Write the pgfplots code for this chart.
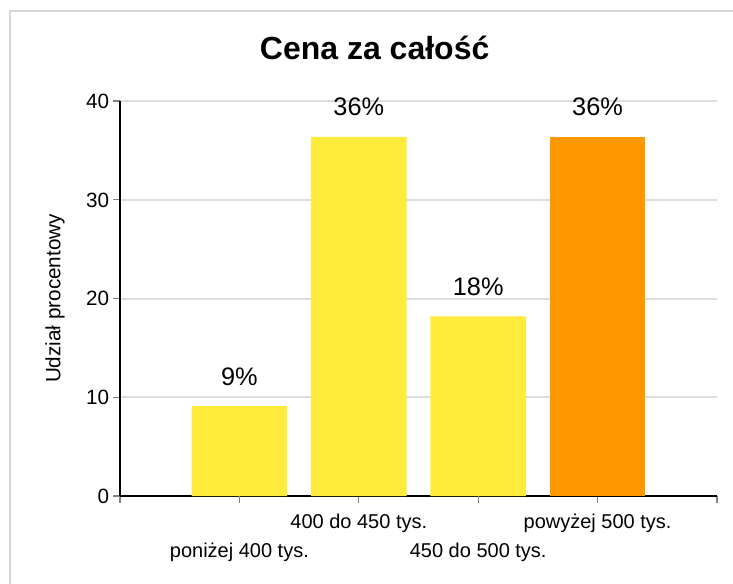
\documentclass[border=0pt]{standalone}
\usepackage{fontspec}
\setmainfont{Liberation Sans}
\usepackage{pgfplots}
\pgfplotsset{compat=1.18}
\definecolor{baryellow}{RGB}{255,235,59}
\definecolor{barorange}{RGB}{255,152,0}
\definecolor{gridgray}{RGB}{220,220,220}
\definecolor{framegray}{RGB}{216,216,216}
\definecolor{tickgray}{RGB}{130,130,130}
\begin{document}
\begin{tikzpicture}
\path[use as bounding box] (0,0) rectangle (549.75pt,437.25pt);
\draw[framegray, line width=2.2pt] (7.5pt,-2pt) -- (7.5pt,429pt) -- (553pt,429pt);
\node[anchor=base, font=\fontsize{24}{28}\selectfont\bfseries] at (281pt,392.25pt) {Cena za całość};
\begin{axis}[
  at={(90pt,65.25pt)}, anchor=south west,
  scale only axis, width=447.75pt, height=296.25pt,
  xmin=0, xmax=5, ymin=0, ymax=40,
  clip=false,
  /pgf/number format/assume math mode=true,
  axis x line=bottom, axis y line=left,
  axis line style={line width=1.8pt, black, -},
  ytick={0,10,20,30,40},
  ymajorgrids,
  grid style={gridgray, line width=1.5pt},
  tick style={tickgray, line width=0.8pt},
  major tick length=5pt,
  tick align=outside,
  yticklabel style={font=\fontsize{15.5}{18}\selectfont, anchor=east, inner sep=0pt, text height=11pt, text depth=0pt, xshift=-3pt},
  xtick={0,2,4,5},
  xticklabels={,400 do 450 tys.,powyżej 500 tys.,},
  extra x ticks={1,3},
  extra x tick labels={poniżej 400 tys.,450 do 500 tys.},
  extra x tick style={xticklabel style={yshift=-21.75pt}},
  xticklabel style={font=\fontsize{15}{18}\selectfont, anchor=base, inner sep=0pt, yshift=-19.5pt},
  ylabel={Udział procentowy},
  ylabel style={at={(axis description cs:-0.109,0.5)}, anchor=center, font=\fontsize{15.5}{18}\selectfont},
  point meta=y,
  nodes near coords={\pgfmathprintnumber[fixed,precision=0]{\pgfplotspointmeta}\%},
  every node near coord/.append style={font=\fontsize{19}{22}\selectfont, anchor=base, inner sep=0pt, yshift=15.75pt},
]
\addplot[ybar, fill=baryellow, draw=none, bar width=0.8, bar shift=0pt] coordinates {(1,9.09) (2,36.36) (3,18.18)};
\addplot[ybar, fill=barorange, draw=none, bar width=0.8, bar shift=0pt] coordinates {(4,36.36)};
\end{axis}
\end{tikzpicture}
\end{document}
